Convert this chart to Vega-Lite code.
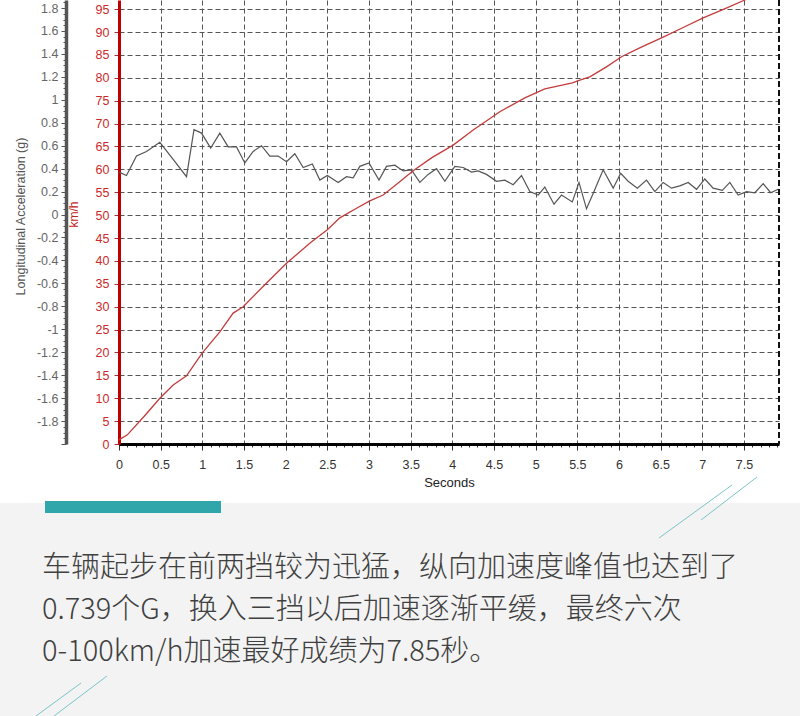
{
  "$schema": "https://vega.github.io/schema/vega-lite/v6.json",
  "width": 660,
  "height": 444,
  "autosize": {"type": "none"},
  "padding": {"left": 119, "top": 0, "right": 21, "bottom": 272},
  "background": "#ffffff",
  "config": {
    "view": {"stroke": null},
    "axis": {"labelFont": "Liberation Sans", "titleFont": "Liberation Sans", "labelFlush": false, "labelOverlap": false}
  },
  "datasets": {
    "accel": [
      {"t": 0, "g": 0.37}, {"t": 0.09, "g": 0.34}, {"t": 0.21, "g": 0.51}, {"t": 0.33, "g": 0.55},
      {"t": 0.49, "g": 0.63}, {"t": 0.65, "g": 0.48}, {"t": 0.81, "g": 0.33}, {"t": 0.9, "g": 0.74},
      {"t": 0.99, "g": 0.71}, {"t": 1.1, "g": 0.58}, {"t": 1.21, "g": 0.71}, {"t": 1.31, "g": 0.59},
      {"t": 1.41, "g": 0.59}, {"t": 1.51, "g": 0.45}, {"t": 1.61, "g": 0.55}, {"t": 1.71, "g": 0.6},
      {"t": 1.81, "g": 0.51}, {"t": 1.91, "g": 0.51}, {"t": 2.01, "g": 0.46}, {"t": 2.11, "g": 0.53},
      {"t": 2.21, "g": 0.41}, {"t": 2.32, "g": 0.44}, {"t": 2.41, "g": 0.3}, {"t": 2.5, "g": 0.34},
      {"t": 2.63, "g": 0.28}, {"t": 2.73, "g": 0.33}, {"t": 2.81, "g": 0.32}, {"t": 2.89, "g": 0.42},
      {"t": 3.0, "g": 0.45}, {"t": 3.12, "g": 0.3}, {"t": 3.21, "g": 0.42}, {"t": 3.31, "g": 0.43},
      {"t": 3.41, "g": 0.38}, {"t": 3.51, "g": 0.39}, {"t": 3.61, "g": 0.28}, {"t": 3.71, "g": 0.35},
      {"t": 3.81, "g": 0.4}, {"t": 3.91, "g": 0.29}, {"t": 4.03, "g": 0.42}, {"t": 4.13, "g": 0.41},
      {"t": 4.23, "g": 0.37}, {"t": 4.31, "g": 0.38}, {"t": 4.41, "g": 0.35}, {"t": 4.53, "g": 0.29},
      {"t": 4.63, "g": 0.3}, {"t": 4.73, "g": 0.26}, {"t": 4.83, "g": 0.34}, {"t": 4.93, "g": 0.2},
      {"t": 5.03, "g": 0.17}, {"t": 5.11, "g": 0.24}, {"t": 5.22, "g": 0.09}, {"t": 5.31, "g": 0.17},
      {"t": 5.44, "g": 0.11}, {"t": 5.52, "g": 0.28}, {"t": 5.61, "g": 0.05}, {"t": 5.7, "g": 0.2},
      {"t": 5.81, "g": 0.39}, {"t": 5.93, "g": 0.23}, {"t": 6.02, "g": 0.36}, {"t": 6.11, "g": 0.29},
      {"t": 6.22, "g": 0.23}, {"t": 6.33, "g": 0.3}, {"t": 6.43, "g": 0.2}, {"t": 6.53, "g": 0.28},
      {"t": 6.63, "g": 0.23}, {"t": 6.73, "g": 0.25}, {"t": 6.83, "g": 0.28}, {"t": 6.93, "g": 0.22},
      {"t": 7.03, "g": 0.31}, {"t": 7.13, "g": 0.23}, {"t": 7.24, "g": 0.21}, {"t": 7.33, "g": 0.28},
      {"t": 7.43, "g": 0.17}, {"t": 7.53, "g": 0.2}, {"t": 7.63, "g": 0.19}, {"t": 7.73, "g": 0.27},
      {"t": 7.82, "g": 0.19}, {"t": 7.91, "g": 0.22}
    ],
    "speed": [
      {"t": 0, "kmh": 0.9}, {"t": 0.1, "kmh": 2.0}, {"t": 0.3, "kmh": 6.0}, {"t": 0.49, "kmh": 10.0},
      {"t": 0.65, "kmh": 12.9}, {"t": 0.81, "kmh": 14.9}, {"t": 1.0, "kmh": 19.9}, {"t": 1.21, "kmh": 24.5},
      {"t": 1.37, "kmh": 28.6}, {"t": 1.49, "kmh": 30.0}, {"t": 1.75, "kmh": 34.8}, {"t": 2.01, "kmh": 39.5},
      {"t": 2.3, "kmh": 44.0}, {"t": 2.5, "kmh": 46.8}, {"t": 2.65, "kmh": 49.4}, {"t": 2.85, "kmh": 51.5},
      {"t": 3.01, "kmh": 53.1}, {"t": 3.17, "kmh": 54.4}, {"t": 3.35, "kmh": 57.0}, {"t": 3.53, "kmh": 59.7},
      {"t": 3.75, "kmh": 62.5}, {"t": 4.01, "kmh": 65.3}, {"t": 4.25, "kmh": 68.6}, {"t": 4.57, "kmh": 72.6},
      {"t": 4.87, "kmh": 75.6}, {"t": 5.11, "kmh": 77.6}, {"t": 5.44, "kmh": 78.9}, {"t": 5.53, "kmh": 79.5},
      {"t": 5.65, "kmh": 80.2}, {"t": 5.85, "kmh": 82.4}, {"t": 6.03, "kmh": 84.6}, {"t": 6.28, "kmh": 86.8},
      {"t": 6.53, "kmh": 88.9}, {"t": 6.77, "kmh": 91.0}, {"t": 7.01, "kmh": 93.1}, {"t": 7.26, "kmh": 95.0},
      {"t": 7.51, "kmh": 97.0}, {"t": 7.85, "kmh": 100.0}
    ],
    "caption": [
      {
        "para": 1,
        "text": [
          "车辆起步在前两挡较为迅猛，纵向加速度峰值也达到了",
          "0.739个G，换入三挡以后加速逐渐平缓，最终六次",
          "0-100km/h加速最好成绩为7.85秒。"
        ]
      }
    ],
    "strokes": [
      {"x0": 659, "y0": 538, "x1": 732, "y1": 485},
      {"x0": 701, "y0": 520, "x1": 757, "y1": 477},
      {"x0": 36, "y0": 716, "x1": 81, "y1": 683},
      {"x0": 54, "y0": 716, "x1": 107, "y1": 676}
    ]
  },
  "layer": [
    {
      "data": {"values": [{"part": "caption panel"}]},
      "mark": {"type": "rect", "color": "#f3f3f3"},
      "encoding": {
        "x": {"datum": 0, "type": "quantitative", "scale": {"domain": [0, 800], "range": [-119, 681]}, "axis": null},
        "x2": {"datum": 800},
        "y": {"datum": 503, "type": "quantitative", "scale": {"domain": [0, 716], "range": [0, 716]}, "axis": null},
        "y2": {"datum": 716}
      }
    },
    {
      "data": {"values": [{"part": "accent bar"}]},
      "mark": {"type": "rect", "color": "#31a6aa"},
      "encoding": {
        "x": {"datum": 45, "type": "quantitative", "scale": {"domain": [0, 800], "range": [-119, 681]}, "axis": null},
        "x2": {"datum": 221},
        "y": {"datum": 501, "type": "quantitative", "scale": {"domain": [0, 716], "range": [0, 716]}, "axis": null},
        "y2": {"datum": 513}
      }
    },
    {
      "data": {"name": "strokes"},
      "mark": {"type": "rule", "color": "#7cc3c6", "strokeWidth": 1},
      "encoding": {
        "x": {"field": "x0", "type": "quantitative", "scale": {"domain": [0, 800], "range": [-119, 681]}, "axis": null},
        "x2": {"field": "x1"},
        "y": {"field": "y0", "type": "quantitative", "scale": {"domain": [0, 716], "range": [0, 716]}, "axis": null},
        "y2": {"field": "y1"}
      }
    },
    {
      "data": {"name": "caption"},
      "mark": {"type": "text", "align": "left", "baseline": "top", "lineHeight": 42, "font": "Noto Sans CJK SC", "fontSize": 29, "fontWeight": 300, "color": "#404040"},
      "encoding": {
        "x": {"datum": 42, "type": "quantitative", "scale": {"domain": [0, 800], "range": [-119, 681]}, "axis": null},
        "y": {"datum": 554, "type": "quantitative", "scale": {"domain": [0, 716], "range": [0, 716]}, "axis": null},
        "text": {"field": "text"}
      }
    },
    {
      "data": {"name": "accel"},
      "mark": {"type": "line", "color": "#555555", "strokeWidth": 1.2},
      "encoding": {
        "x": {"field": "t", "type": "quantitative", "scale": {"domain": [0, 7.92], "nice": false}, "axis": null},
        "y": {
          "field": "g",
          "type": "quantitative",
          "scale": {"domain": [-2, 1.87], "nice": false, "zero": false},
          "axis": {
            "orient": "left",
            "offset": 53,
            "tickCount": 78,
            "grid": false,
            "labelExpr": "abs(datum.value*5-round(datum.value*5))<0.001 && datum.value > -1.95 ? '' + datum.value : ''",
            "tickSize": {"condition": {"test": "abs(datum.value*5-round(datum.value*5))<0.001", "value": 5}, "value": 3},
            "domainColor": "#555555",
            "domainWidth": 3.5,
            "tickColor": "#555555",
            "labelColor": "#666666",
            "labelFontSize": 12.5,
            "labelPadding": 3,
            "title": "Longitudinal Acceleration (g)",
            "titleColor": "#555555",
            "titleFontSize": 12.5,
            "titleFontWeight": "normal",
            "titlePadding": 9,
            "titleY": 216
          }
        }
      }
    },
    {
      "data": {"name": "speed"},
      "mark": {"type": "line", "color": "#c43c3c", "strokeWidth": 1.3, "clip": true},
      "encoding": {
        "x": {
          "field": "t",
          "type": "quantitative",
          "scale": {"domain": [0, 7.92], "nice": false},
          "axis": {
            "tickCount": 80,
            "labelExpr": "abs(datum.value*2-round(datum.value*2))<0.001 ? '' + datum.value : ''",
            "tickSize": {"condition": {"test": "abs(datum.value*2-round(datum.value*2))<0.001", "value": 6}, "value": 3},
            "grid": true,
            "gridColor": "#555555",
            "gridDash": [5, 3],
            "gridWidth": 1,
            "gridOpacity": {"condition": {"test": "abs(datum.value*2-round(datum.value*2))<0.001 && datum.value > 0", "value": 1}, "value": 0},
            "domainColor": "#000000",
            "domainWidth": 3,
            "tickColor": "#333333",
            "labelColor": "#333333",
            "labelFontSize": 12.5,
            "labelPadding": 8,
            "title": "Seconds",
            "titleColor": "#222222",
            "titleFontSize": 13,
            "titleFontWeight": "normal",
            "titlePadding": 6
          }
        },
        "y": {
          "field": "kmh",
          "type": "quantitative",
          "scale": {"domain": [0, 97], "nice": false},
          "axis": {
            "orient": "left",
            "values": [0, 5, 10, 15, 20, 25, 30, 35, 40, 45, 50, 55, 60, 65, 70, 75, 80, 85, 90, 95],
            "labelExpr": "'' + datum.value",
            "grid": true,
            "gridColor": "#555555",
            "gridDash": [5, 3],
            "gridWidth": 1,
            "domainColor": "#c00000",
            "domainWidth": 3,
            "tickColor": "#b03030",
            "tickSize": 5,
            "labelColor": "#cc2a2a",
            "labelFontSize": 12.5,
            "labelPadding": 5,
            "title": "km/h",
            "titleColor": "#c02020",
            "titleFontSize": 12,
            "titleFontWeight": "normal",
            "titlePadding": 15,
            "titleY": 214
          }
        }
      }
    },
    {
      "data": {"values": [{"part": "plot frame"}]},
      "mark": {"type": "rule", "color": "#111111", "strokeWidth": 2, "strokeDash": [6, 3]},
      "encoding": {
        "x": {"datum": 7.92, "type": "quantitative", "scale": {"domain": [0, 7.92], "nice": false}, "axis": null}
      }
    }
  ],
  "resolve": {"scale": {"x": "independent", "y": "independent"}}
}
